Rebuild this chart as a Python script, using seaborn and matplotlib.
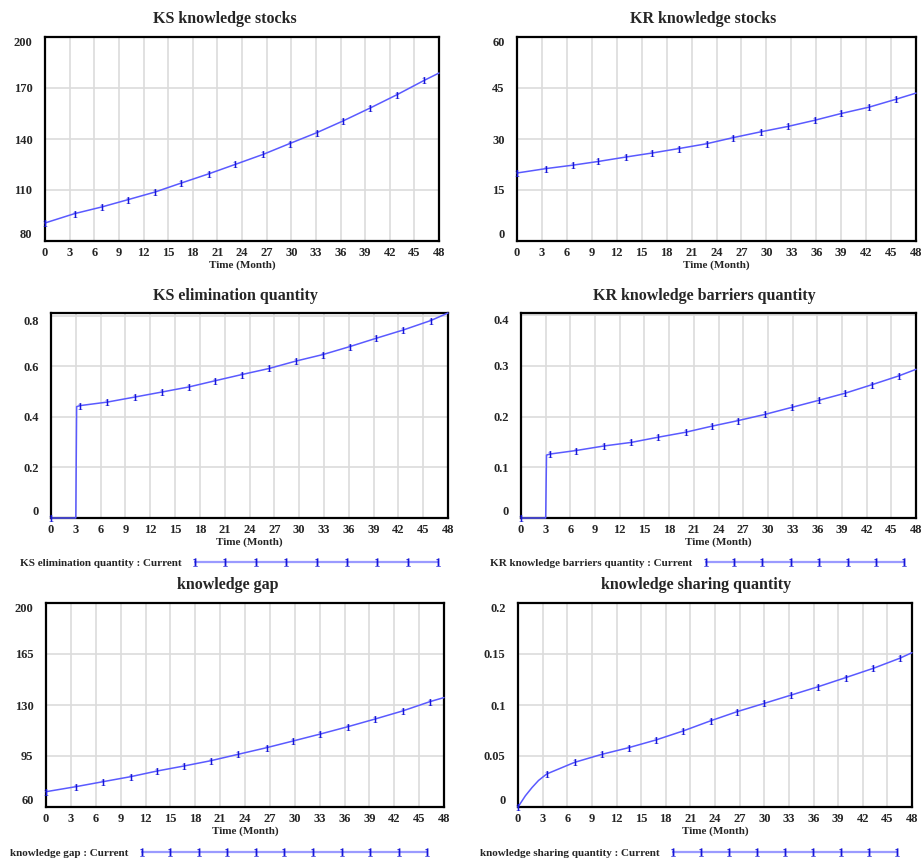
import numpy as np
import matplotlib
matplotlib.use('Agg')
import matplotlib.pyplot as plt
import seaborn as sns
from matplotlib.lines import Line2D

# simulation output (time in months)
ks_stock_t = [0, 3.6, 6.9, 10.1, 13.4, 16.6, 20.0, 23.2, 26.6, 29.8, 33.1, 36.3, 39.6, 42.9, 46.2, 48]
ks_stock = [90.6, 96.1, 100.0, 104.3, 108.8, 114.1, 119.6, 125.1, 131.0, 137.3, 143.7, 150.6, 158.2, 166.1, 174.5, 178.8]

kr_stock_t = [0, 3.5, 6.7, 9.8, 13.1, 16.3, 19.5, 22.8, 26.0, 29.3, 32.6, 35.8, 39.0, 42.4, 45.6, 48]
kr_stock = [20.0, 21.3, 22.3, 23.4, 24.7, 25.9, 27.2, 28.6, 30.4, 32.1, 33.7, 35.5, 37.5, 39.4, 41.7, 43.5]

ks_elim_t = [0, 3.0, 3.1, 3.5, 6.8, 10.15, 13.45, 16.7, 19.8, 23.1, 26.4, 29.6, 32.9, 36.1, 39.3, 42.6, 45.9, 48]
ks_elim = [0, 0, 0.44, 0.444, 0.458, 0.478, 0.498, 0.518, 0.542, 0.567, 0.591, 0.62, 0.646, 0.677, 0.71, 0.743, 0.78, 0.81]

kr_barrier_t = [0, 3.0, 3.1, 3.5, 6.7, 10.1, 13.4, 16.6, 20.0, 23.2, 26.4, 29.6, 32.9, 36.2, 39.4, 42.7, 45.9, 48]
kr_barrier = [0, 0, 0.124, 0.126, 0.133, 0.142, 0.149, 0.159, 0.169, 0.181, 0.192, 0.204, 0.218, 0.232, 0.246, 0.263, 0.280, 0.293]

gap_t = [0, 3.65, 6.9, 10.2, 13.4, 16.6, 19.9, 23.2, 26.6, 29.8, 33.1, 36.4, 39.7, 43.0, 46.3, 48]
gap = [70.5, 74.0, 77.4, 80.8, 84.7, 88.1, 91.8, 96.2, 100.7, 105.3, 110.1, 115.1, 120.4, 125.9, 132.3, 135.1]

share_t = [0, 0.9, 1.7, 2.5, 3.5, 6.9, 10.2, 13.5, 16.8, 20.1, 23.5, 26.7, 30.0, 33.3, 36.6, 39.9, 43.3, 46.5, 48]
share = [0, 0.011, 0.019, 0.026, 0.0324, 0.0438, 0.0516, 0.0582, 0.0657, 0.0745, 0.0846, 0.0935, 0.1016, 0.1098, 0.118, 0.1268, 0.136, 0.1458, 0.1513]

x_ticks = list(range(0, 49, 3))

titles = ['KS knowledge stocks', 'KR knowledge stocks', 'KS elimination quantity',
          'KR knowledge barriers quantity', 'knowledge gap', 'knowledge sharing quantity']
y_ticks = [[80, 110, 140, 170, 200], [0, 15, 30, 45, 60], [0, 0.2, 0.4, 0.6, 0.8],
           [0, 0.1, 0.2, 0.3, 0.4], [60, 95, 130, 165, 200], [0, 0.05, 0.1, 0.15, 0.2]]
y_labels = [['80', '110', '140', '170', '200'], ['0', '15', '30', '45', '60'],
            ['0', '0.2', '0.4', '0.6', '0.8'], ['0', '0.1', '0.2', '0.3', '0.4'],
            ['60', '95', '130', '165', '200'], ['0', '0.05', '0.1', '0.15', '0.2']]
y_limits = [(80, 200), (0, 60), (0, 0.81), (0, 0.404), (60, 200), (0, 0.2)]
legend_labels = [None, None, 'KS elimination quantity : Current',
                 'KR knowledge barriers quantity : Current',
                 'knowledge gap : Current', 'knowledge sharing quantity : Current']

series = [(ks_stock_t, ks_stock), (kr_stock_t, kr_stock), (ks_elim_t, ks_elim),
          (kr_barrier_t, kr_barrier), (gap_t, gap), (share_t, share)]
# which points carry a "1" marker (the extra step / curve points do not)
mark_idx = [list(range(15)), list(range(15)), [0] + list(range(3, 17)),
            [0] + list(range(3, 17)), list(range(15)), [0] + list(range(4, 18))]

sns.set_theme(style='white')
plt.rcParams['font.family'] = ['Liberation Serif', 'DejaVu Serif']
plt.rcParams['font.weight'] = 'bold'
plt.rcParams['mathtext.fontset'] = 'custom'
plt.rcParams['mathtext.rm'] = 'Liberation Serif:bold'
plt.rcParams['mathtext.it'] = 'Liberation Serif:bold'
plt.rcParams['mathtext.default'] = 'rm'

W, H = 921, 860
fig = plt.figure(figsize=(W / 100, H / 100), dpi=100)

# axes boxes in pixels: left, top, right, bottom
boxes = [(45, 37, 439, 241), (517, 37, 916, 241),
         (51, 313, 448, 518), (521, 313, 916, 518),
         (46, 603, 444, 807), (518, 603, 912, 807)]
title_pos = [(225, 19), (703, 19), (235, 296), (704, 296), (228, 585), (696, 585)]
# x, y of the legend text start, number of markers, handle length (font units)
legend_pos = [None, None, (20, 563, 9, 22.5), (490, 563, 8, 18.5),
              (10, 853, 11, 26.3), (480, 853, 9, 20.8)]

line_col = '#5a5aff'
mark_col = '#1515d8'

for i in range(6):
    l, t, r, b = boxes[i]
    ax = fig.add_axes([l / W, 1 - b / H, (r - l) / W, (b - t) / H])
    tt, vv = series[i]
    sns.lineplot(x=tt, y=vv, ax=ax, color=line_col, lw=1.1, sort=False, estimator=None,
                 marker='$1$', markersize=5, markeredgewidth=0,
                 markerfacecolor=mark_col, markeredgecolor=mark_col,
                 markevery=mark_idx[i], clip_on=False, zorder=3)
    ax.set_xlim(0, 48)
    ax.set_ylim(*y_limits[i])
    ax.set_xticks(x_ticks)
    ax.set_xticklabels([str(v) for v in x_ticks], fontsize=9, fontweight='bold')
    ax.set_yticks(y_ticks[i])
    ax.set_yticklabels(y_labels[i], fontsize=9, fontweight='bold')
    ylab = ax.get_yticklabels()
    ylab[0].set_va('bottom')
    ylab[-1].set_va('top')
    ax.tick_params(length=0, pad=4)
    ax.tick_params(axis='y', pad=9)
    ax.grid(True, color='#dcdcdc', lw=1.2)
    ax.set_axisbelow(True)
    for s in ax.spines.values():
        s.set_color('black')
        s.set_linewidth(1.6)
    ax.set_xlabel('Time (Month)', fontsize=8, fontweight='bold', labelpad=1)
    ax.set_ylabel('')
    fig.text(title_pos[i][0] / W, 1 - title_pos[i][1] / H, titles[i],
             ha='center', va='center', fontsize=11.5, fontweight='bold')

    if legend_labels[i] is not None:
        lx, ly, npts, hlen = legend_pos[i]
        handle = Line2D([], [], color='#9a9aff', lw=1.6, marker='$1$', markersize=6,
                        markerfacecolor=mark_col, markeredgecolor=mark_col, markeredgewidth=0)
        ax.legend([handle], [legend_labels[i]], loc='center left',
                  bbox_to_anchor=(lx / W, 1 - ly / H), bbox_transform=fig.transFigure,
                  frameon=False, markerfirst=False, numpoints=npts, handlelength=hlen,
                  handletextpad=0.9, borderpad=0, borderaxespad=0,
                  prop={'size': 8, 'weight': 'bold'})

fig.savefig('out.png', dpi=100)
